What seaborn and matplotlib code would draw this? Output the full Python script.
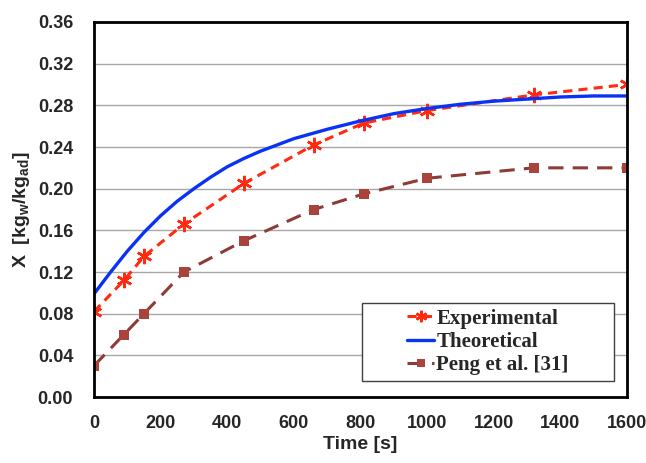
import matplotlib
matplotlib.use("Agg")
import matplotlib.pyplot as plt
import seaborn as sns
from matplotlib.patches import Rectangle
from matplotlib.ticker import MultipleLocator

# experimental data
exp_time = [0, 90, 150, 270, 450, 660, 810, 1000, 1320, 1600]
exp_x = [0.082, 0.112, 0.135, 0.166, 0.205, 0.242, 0.263, 0.275, 0.290, 0.300]

# theoretical curve
theo_time = [0, 50, 100, 150, 200, 250, 300, 350, 400, 450, 500, 550, 600,
             700, 800, 900, 1000, 1100, 1200, 1300, 1400, 1500, 1600]
theo_x = [0.099, 0.120, 0.140, 0.158, 0.174, 0.188, 0.200, 0.211, 0.221,
          0.229, 0.236, 0.242, 0.248, 0.257, 0.265, 0.272, 0.277, 0.281,
          0.284, 0.286, 0.288, 0.289, 0.289]

# Peng et al. [31]
peng_time = [0, 90, 150, 270, 450, 660, 810, 1000, 1320, 1600]
peng_x = [0.030, 0.060, 0.080, 0.120, 0.150, 0.180, 0.195, 0.210, 0.220, 0.220]

sns.set_style("white")
plt.rcParams["font.family"] = ["Liberation Sans", "DejaVu Sans"]
plt.rcParams["mathtext.fontset"] = "custom"
plt.rcParams["mathtext.rm"] = "Liberation Sans"
plt.rcParams["mathtext.bf"] = "Liberation Sans:bold"

fig = plt.figure(figsize=(6.46, 4.63), dpi=100)
ax = fig.add_axes([0.1455, 0.1425, 0.825, 0.81])

sns.lineplot(x=exp_time, y=exp_x, ax=ax, color="#ff2a10", lw=2.2,
             linestyle=(0, (3, 2)), marker=(6, 2, 0), markersize=11,
             markeredgewidth=1.8, markeredgecolor="#ff2a10",
             label="Experimental")
sns.lineplot(x=theo_time, y=theo_x, ax=ax, color="#0a32f5", lw=2.4,
             label="Theoretical")
sns.lineplot(x=peng_time, y=peng_x, ax=ax, color="#8e3b36", lw=2.2,
             linestyle=(0, (5, 3)), marker="s", markersize=7,
             markeredgewidth=0, markerfacecolor="#a9443c",
             label="Peng et al. [31]")

ax.set_xlim(0, 1600)
ax.set_ylim(0, 0.36)
ax.xaxis.set_major_locator(MultipleLocator(200))
ax.xaxis.set_minor_locator(MultipleLocator(100))
ax.yaxis.set_major_locator(MultipleLocator(0.04))
ax.yaxis.set_minor_locator(MultipleLocator(0.02))
ax.yaxis.set_major_formatter(plt.FuncFormatter(lambda v, p: f"{v:.2f}"))

ax.grid(axis="y", which="major", color="#a8a8a8", lw=1.0)
ax.set_axisbelow(True)
for s in ax.spines.values():
    s.set_color("black")
    s.set_linewidth(2.0)

ax.tick_params(axis="both", which="major", direction="out", length=6,
               width=1.2, color="black", labelsize=13)
ax.tick_params(axis="both", which="minor", direction="out", length=4,
               width=1.2, color="black")
ax.tick_params(axis="x", which="major", pad=7)
ax.tick_params(axis="y", which="major", pad=9)
for lab in ax.get_xticklabels() + ax.get_yticklabels():
    lab.set_fontweight("bold")

ax.set_xlabel("Time [s]", fontsize=14, fontweight="bold", labelpad=3)
ax.set_ylabel(r"X  [kg$_\mathbf{w}$/kg$_\mathbf{ad}$]", fontsize=14,
              fontweight="bold", labelpad=4)

# legend box (wider than its content, like the original)
box = Rectangle((0.503, 0.043), 0.4726, 0.208, transform=ax.transAxes,
                facecolor="white", edgecolor="#404040", lw=1.0, zorder=4)
ax.add_patch(box)

leg = ax.legend(loc="center", bbox_to_anchor=(0.739, 0.147),
                prop={"family": "Liberation Serif", "weight": "bold",
                      "size": 15},
                frameon=False, handlelength=1.3, handletextpad=0.1,
                labelspacing=0.15, borderaxespad=0)
leg.set_zorder(5)
for h in leg.legend_handles:
    h.set_markersize(h.get_markersize() * 0.75)

fig.savefig("out.png", dpi=100)
